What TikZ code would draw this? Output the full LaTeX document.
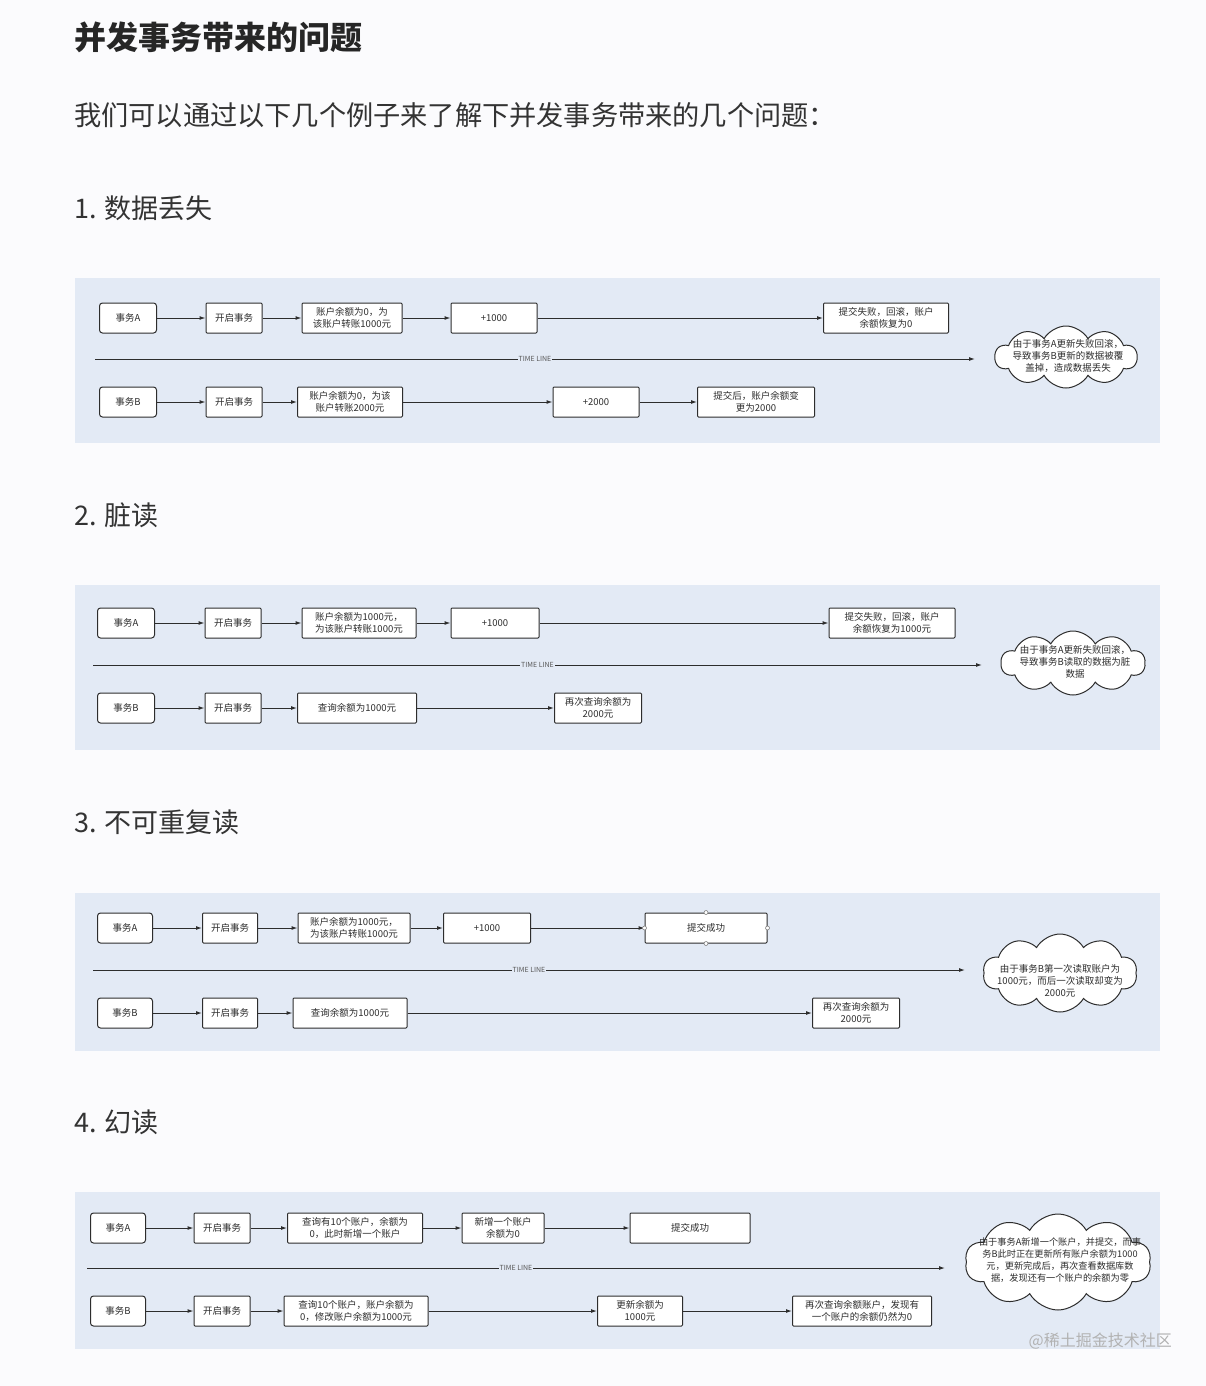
\documentclass[tikz,border=0pt]{standalone}
\usepackage{fontspec}
\newfontfamily\cjk{Noto Sans CJK SC}
\usetikzlibrary{arrows.meta,shapes.symbols}
\definecolor{panel}{RGB}{227,234,245}
\definecolor{pagebg}{RGB}{251,251,253}
\definecolor{ink}{RGB}{45,45,45}
\begin{document}
\begin{tikzpicture}[x=1pt,y=-1pt,
  box/.style={draw=ink, fill=white, line width=1pt, minimum height=30pt, inner sep=1pt,
    rounded corners=1pt, align=center, font=\cjk\fontsize{9.5}{11.5}\selectfont, text=ink},
  tbox/.style={box, rounded corners=3pt},
  arr/.style={-{Latex[length=6pt,width=4pt]}, line width=1pt, draw=ink},
  tl/.style={fill=panel, inner sep=1pt, font=\cjk\fontsize{7}{8}\selectfont, text=ink!80},
  cloudshape/.style={cloud, cloud puffs=10, cloud puff arc=120, draw=ink, fill=white, line width=1pt, inner sep=0pt},
  ctext/.style={align=center, font=\cjk\fontsize{9.5}{12}\selectfont, text=ink, inner sep=0pt},
  head/.style={anchor=west, font=\cjk\fontsize{27}{32}\selectfont, text=black!80, inner sep=0pt},
  dot/.style={circle, draw=gray, fill=white, inner sep=0pt, minimum size=4pt, line width=0.6pt}]
\useasboundingbox (0,0) rectangle (1206,1386);
\fill[pagebg] (0,0) rectangle (1206,1386);

% headings
\node[anchor=west, font=\cjk\bfseries\fontsize{32}{37}\selectfont, text=black!85, inner sep=0pt] (title) at (74,37) {并发事务带来的问题};
\node[anchor=west, font=\cjk\fontsize{27.2}{32}\selectfont, text=black!80, inner sep=0pt] (intro) at (74,115) {我们可以通过以下几个例子来了解下并发事务带来的几个问题：};
\node[head] (h1) at (74,208) {1. 数据丢失};
\node[head] (h2) at (74,515) {2. 脏读};
\node[head] (h3) at (74,822) {3. 不可重复读};
\node[head] (h4) at (74,1122) {4. 幻读};

% panels
\fill[panel] (75,278) rectangle (1160,443);
\fill[panel] (75,585) rectangle (1160,750);
\fill[panel] (75,893) rectangle (1160,1051);
\fill[panel] (75,1192) rectangle (1160,1349);

%%%%% Diagram 1
\node[tbox, minimum width=57pt] (a1) at (128,318) {事务A};
\node[box, minimum width=56pt] (a2) at (234,318) {开启事务};
\node[box, minimum width=100pt] (a3) at (352,318) {账户余额为0，为\\该账户转账1000元};
\node[box, minimum width=86pt] (a4) at (494,318) {+1000};
\node[box, minimum width=125pt] (a5) at (886,318) {提交失败，回滚，账户\\余额恢复为0};
\draw[arr] (a1) -- (a2); \draw[arr] (a2) -- (a3); \draw[arr] (a3) -- (a4); \draw[arr] (a4) -- (a5);
\node[tbox, minimum width=57pt] (b1) at (128,402) {事务B};
\node[box, minimum width=56pt] (b2) at (234,402) {开启事务};
\node[box, minimum width=105pt] (b3) at (350,402) {账户余额为0，为该\\账户转账2000元};
\node[box, minimum width=86pt] (b4) at (596,402) {+2000};
\node[box, minimum width=117pt] (b5) at (756,402) {提交后，账户余额变\\更为2000};
\draw[arr] (b1) -- (b2); \draw[arr] (b2) -- (b3); \draw[arr] (b3) -- (b4); \draw[arr] (b4) -- (b5);
\coordinate (t1s) at (95,359); \coordinate (t1e) at (975,359);
\draw[arr] (t1s) -- (t1e) node[tl, pos=0.5] (t1l) {TIME LINE};
\node[cloudshape, minimum width=142pt, minimum height=62pt] (c1) at (1066,357) {};
\node[ctext] (c1t) at (1068,356) {由于事务A更新失败回滚，\\导致事务B更新的数据被覆\\盖掉，造成数据丢失};

%%%%% Diagram 2
\node[tbox, minimum width=57pt] (d1) at (126,623) {事务A};
\node[box, minimum width=56pt] (d2) at (233,623) {开启事务};
\node[box, minimum width=114pt] (d3) at (359,623) {账户余额为1000元，\\为该账户转账1000元};
\node[box, minimum width=88pt] (d4) at (495,623) {+1000};
\node[box, minimum width=126pt] (d5) at (892,623) {提交失败，回滚，账户\\余额恢复为1000元};
\draw[arr] (d1) -- (d2); \draw[arr] (d2) -- (d3); \draw[arr] (d3) -- (d4); \draw[arr] (d4) -- (d5);
\node[tbox, minimum width=57pt] (e1) at (126,708) {事务B};
\node[box, minimum width=56pt] (e2) at (233,708) {开启事务};
\node[box, minimum width=119pt] (e3) at (357,708) {查询余额为1000元};
\node[box, minimum width=87pt] (e4) at (598,708) {再次查询余额为\\2000元};
\draw[arr] (e1) -- (e2); \draw[arr] (e2) -- (e3); \draw[arr] (e3) -- (e4);
\coordinate (t2s) at (93,665); \coordinate (t2e) at (982,665);
\draw[arr] (t2s) -- (t2e) node[tl, pos=0.5] (t2l) {TIME LINE};
\node[cloudshape, minimum width=144pt, minimum height=64pt] (c2) at (1073,663) {};
\node[ctext] (c2t) at (1075,662) {由于事务A更新失败回滚，\\导致事务B读取的数据为脏\\数据};

%%%%% Diagram 3
\node[tbox, minimum width=55pt] (f1) at (125,928) {事务A};
\node[box, minimum width=55pt] (f2) at (230,928) {开启事务};
\node[box, minimum width=112pt] (f3) at (354,928) {账户余额为1000元，\\为该账户转账1000元};
\node[box, minimum width=87pt] (f4) at (487,928) {+1000};
\node[box, minimum width=122pt] (f5) at (706,928) {提交成功};
\draw[arr] (f1) -- (f2); \draw[arr] (f2) -- (f3); \draw[arr] (f3) -- (f4); \draw[arr] (f4) -- (f5);
\node[dot] (f5w) at (f5.west) {}; \node[dot] (f5e) at (f5.east) {};
\node[dot] (f5n) at (f5.north) {}; \node[dot] (f5s) at (f5.south) {};
\node[tbox, minimum width=55pt] (g1) at (125,1013) {事务B};
\node[box, minimum width=55pt] (g2) at (230,1013) {开启事务};
\node[box, minimum width=114pt] (g3) at (350,1013) {查询余额为1000元};
\node[box, minimum width=87pt] (g4) at (856,1013) {再次查询余额为\\2000元};
\draw[arr] (g1) -- (g2); \draw[arr] (g2) -- (g3); \draw[arr] (g3) -- (g4);
\coordinate (t3s) at (93,970); \coordinate (t3e) at (965,970);
\draw[arr] (t3s) -- (t3e) node[tl, pos=0.5] (t3l) {TIME LINE};
\node[cloudshape, minimum width=154pt, minimum height=78pt] (c3) at (1060,973) {};
\node[ctext] (c3t) at (1060,981) {由于事务B第一次读取账户为\\1000元，而后一次读取却变为\\2000元};

%%%%% Diagram 4
\node[tbox, minimum width=55pt] (p1) at (118,1228) {事务A};
\node[box, minimum width=56pt] (p2) at (222,1228) {开启事务};
\node[box, minimum width=135pt] (p3) at (355,1228) {查询有10个账户，余额为\\0，此时新增一个账户};
\node[box, minimum width=82pt] (p4) at (503,1228) {新增一个账户\\余额为0};
\node[box, minimum width=120pt] (p5) at (690,1228) {提交成功};
\draw[arr] (p1) -- (p2); \draw[arr] (p2) -- (p3); \draw[arr] (p3) -- (p4); \draw[arr] (p4) -- (p5);
\node[tbox, minimum width=55pt] (q1) at (118,1311) {事务B};
\node[box, minimum width=56pt] (q2) at (222,1311) {开启事务};
\node[box, minimum width=144pt] (q3) at (356,1311) {查询10个账户，账户余额为\\0，修改账户余额为1000元};
\node[box, minimum width=85pt] (q4) at (640,1311) {更新余额为\\1000元};
\node[box, minimum width=139pt] (q5) at (862,1311) {再次查询余额账户，发现有\\一个账户的余额仍然为0};
\draw[arr] (q1) -- (q2); \draw[arr] (q2) -- (q3); \draw[arr] (q3) -- (q4); \draw[arr] (q4) -- (q5);
\coordinate (t4s) at (87,1268); \coordinate (t4e) at (945,1268);
\draw[arr] (t4s) -- (t4e) node[tl, pos=0.5] (t4l) {TIME LINE};
\node[cloudshape, minimum width=186pt, minimum height=96pt] (c4) at (1058,1262) {};
\node[ctext, font=\cjk\fontsize{9.2}{12}\selectfont] (c4t) at (1060,1260) {由于事务A新增一个账户，并提交，而事\\务B此时正在更新所有账户余额为1000\\元，更新完成后，再次查看数据库数\\据，发现还有一个账户的余额为零};

% watermark
\node[anchor=east, font=\cjk\fontsize{16}{18}\selectfont, text=gray!60, inner sep=0pt] (wm) at (1172,1341) {@稀土掘金技术社区};
\end{tikzpicture}
\end{document}
